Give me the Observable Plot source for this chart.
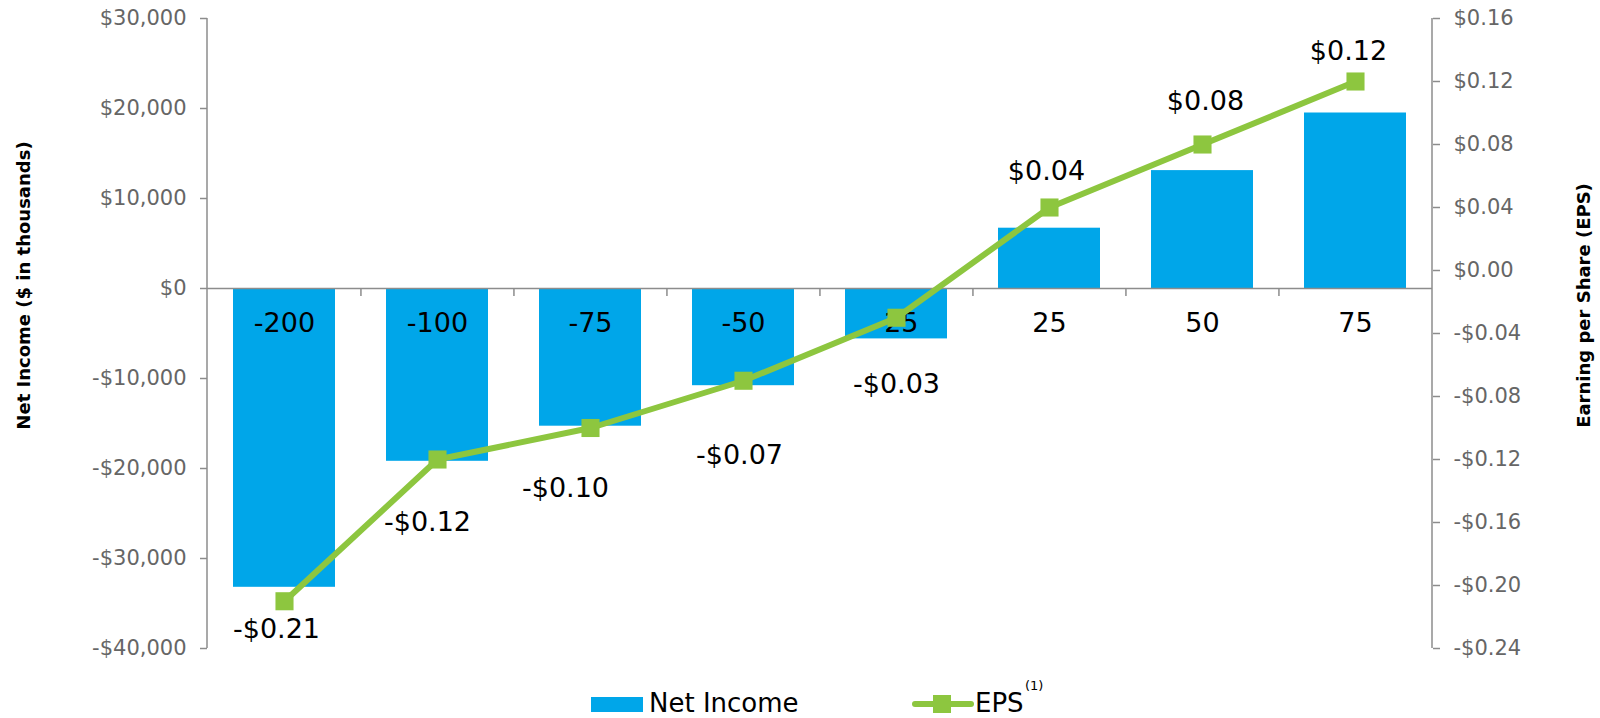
<!DOCTYPE html>
<html>
<head>
<meta charset="utf-8">
<script src="https://cdn.jsdelivr.net/npm/d3@7"></script>
<script src="https://cdn.jsdelivr.net/npm/@observablehq/plot@0.6"></script>
<style>
  html, body { margin: 0; padding: 0; background: #fff; }
  #wrap { position: relative; width: 1600px; height: 718px; font-family: "DejaVu Sans", Verdana, sans-serif; }
  #chart svg { display: block; }
  .lg { position: absolute; font-size: 26px; line-height: 26px; color: #000; white-space: nowrap; }
</style>
</head>
<body>
<div id="wrap">
  <div id="chart"></div>
  <div id="legend"></div>
</div>
<script>
// ---- data ----
const categories = ["-200", "-100", "-75", "-50", "-25", "25", "50", "75"];
const netIncome = [-33200, -19200, -15300, -10800, -5600, 6700, 13100, 19500];
const eps = [-0.21, -0.12, -0.10, -0.07, -0.03, 0.04, 0.08, 0.12];
const leftTicks = [-40000, -30000, -20000, -10000, 0, 10000, 20000, 30000];
const rightTicks = [-0.24, -0.20, -0.16, -0.12, -0.08, -0.04, 0.00, 0.04, 0.08, 0.12, 0.16];
const seriesNames = ["Net Income", "EPS"];
const axisTitles = ["Net Income ($ in thousands)", "Earning per Share (EPS)"];

// ---- styling ----
const blue = "#00A6E9";
const green = "#8DC63F";
const axisGrey = "#8C8C8C";
const textGrey = "#666666";
// label nudges (dx, dy in px) for EPS data labels, as in the reference
const labelNudge = [[-8, 28], [-10, 63], [-25, 60], [-4, 75], [0, 67], [-3, -36], [3, -43], [-7, -30]];

const W = 1600, H = 670;
const mL = 207, mR = 168, mT = 18, mB = 22;
const pIn = 1 / 3, pOut = 1 / 6;
const step = (W - mL - mR) / (categories.length - pIn + 2 * pOut);

const leftDomain = [d3.min(leftTicks), d3.max(leftTicks)];
const rightDomain = [d3.min(rightTicks), d3.max(rightTicks)];
const epsToY = d3.scaleLinear(rightDomain, leftDomain);
const pxToY = (leftDomain[1] - leftDomain[0]) / (H - mT - mB);

const data = categories.map((c, i) => ({cat: c, ni: netIncome[i], eps: eps[i], ey: epsToY(eps[i])}));

const fmtLeft = v => (v < 0 ? "-" : "") + "$" + d3.format(",")(Math.abs(v));
const fmtEps = e => { e = Math.round(e * 100) / 100; return (e < -1e-9 ? "-" : "") + "$" + Math.abs(e).toFixed(2); };

const axisLines = (index, scales, values, dims) => {
  const g = d3.create("svg:g").attr("stroke", axisGrey).attr("stroke-width", 1.5);
  const yb = scales.y(leftDomain[0]), yt = scales.y(leftDomain[1]);
  const xl = dims.marginLeft, xr = dims.width - dims.marginRight;
  g.append("line").attr("x1", xl).attr("x2", xl).attr("y1", yb).attr("y2", yt);
  g.append("line").attr("x1", xr).attr("x2", xr).attr("y1", yb).attr("y2", yt);
  return g.node();
};

const marks = [
  Plot.barY(data, {x: "cat", y: "ni", fill: blue}),
  Plot.ruleY([0], {stroke: axisGrey, strokeWidth: 1.5}),
  Plot.ruleX(categories.slice(1), {x: d => d, dx: -step / 2, y1: 0, y2: -8 * pxToY, stroke: axisGrey, strokeWidth: 1.5}),
  axisLines,
  Plot.axisY({anchor: "left", ticks: leftTicks, tickFormat: fmtLeft, tickSize: 7, tickPadding: 14,
    fontSize: 21, stroke: axisGrey, strokeWidth: 1.5, fill: textGrey, label: null}),
  Plot.axisY({anchor: "right", ticks: rightTicks.map(epsToY), tickFormat: v => fmtEps(epsToY.invert(v)),
    tickSize: 7, tickPadding: 14, fontSize: 21, stroke: axisGrey, strokeWidth: 1.5, fill: textGrey, label: null}),
  Plot.text(data, {x: "cat", y: 0, text: "cat", dy: 35, fontSize: 27, fill: "#000"}),
  Plot.line(data, {x: "cat", y: "ey", stroke: green, strokeWidth: 6}),
  Plot.dot(data, {x: "cat", y: "ey", symbol: "square", r: 10.2, fill: green, stroke: "none"}),
  ...data.map((d, i) => Plot.text([d], {x: "cat", y: "ey", text: dd => fmtEps(dd.eps),
    dx: labelNudge[i][0], dy: labelNudge[i][1], fontSize: 27, fill: "#000"})),
  Plot.text([axisTitles[0]], {frameAnchor: "left", textAnchor: "middle", rotate: -90, dx: -183, dy: -48,
    fontSize: 18, fontWeight: "bold", fill: "#000"}),
  Plot.text([axisTitles[1]], {frameAnchor: "right", textAnchor: "middle", rotate: -90, dx: 152, dy: -28,
    fontSize: 18, fontWeight: "bold", fill: "#000"})
];

const chart = Plot.plot({
  width: W, height: H,
  marginLeft: mL, marginRight: mR, marginTop: mT, marginBottom: mB,
  style: {fontFamily: "DejaVu Sans, Verdana, sans-serif", background: "#fff", overflow: "visible"},
  x: {type: "band", domain: categories, paddingInner: pIn, paddingOuter: pOut, axis: null},
  y: {domain: leftDomain, axis: null},
  marks
});
document.getElementById("chart").appendChild(chart);

// ---- legend ----
const legend = document.getElementById("legend");
legend.innerHTML = `
  <div style="position:absolute;left:591px;top:697px;width:52px;height:15px;background:${blue}"></div>
  <div class="lg" style="left:649px;top:690px">${seriesNames[0]}</div>
  <svg style="position:absolute;left:911px;top:695px" width="64" height="20">
    <line x1="4" x2="60" y1="9" y2="9" stroke="${green}" stroke-width="6" stroke-linecap="round"/>
    <rect x="22" y="0" width="18" height="18" fill="${green}"/>
  </svg>
  <div class="lg" style="left:975px;top:690px">${seriesNames[1]}</div>
  <div class="lg" style="left:1025px;top:679px;font-size:13px;line-height:13px">(1)</div>
`;
</script>
</body>
</html>
